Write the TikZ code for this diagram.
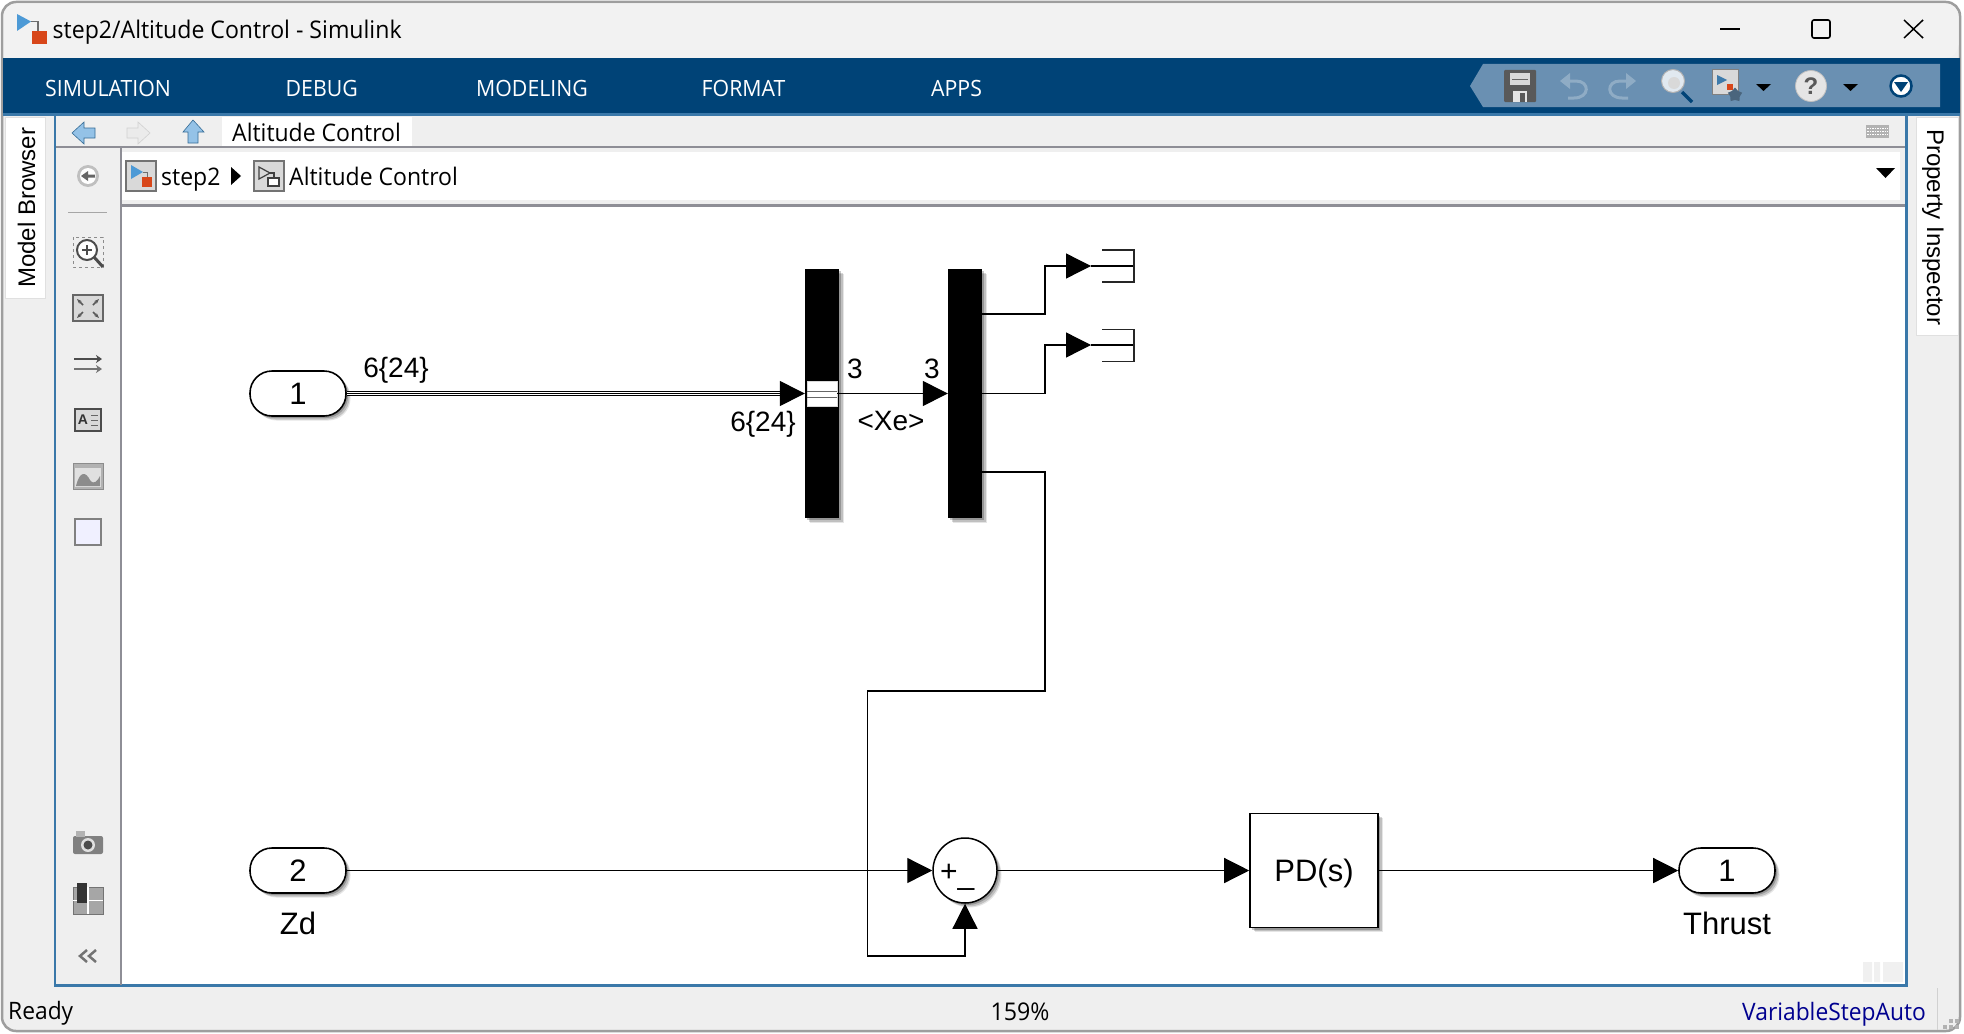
\documentclass[tikz,border=0pt]{standalone}
\usepackage{fontspec}
\setmainfont{Liberation Sans}
\newfontfamily\uiface[FakeStretch=0.95]{Open Sans}
\usetikzlibrary{arrows.meta,shapes.geometric,shadows}
\definecolor{titlebg}{HTML}{F2F2F2}
\definecolor{bandblue}{HTML}{004377}
\definecolor{qabar}{HTML}{6A90B2}
\definecolor{steel}{HTML}{3A78A9}
\definecolor{panel}{HTML}{EFEFEF}
\definecolor{rulegrey}{HTML}{8E8E96}
\definecolor{iconblue}{HTML}{4D9AD6}
\definecolor{iconred}{HTML}{D8471A}
\definecolor{icongrey}{HTML}{6E6E6E}
\definecolor{statusblue}{HTML}{00008F}
\newcommand{\sz}[1]{\fontsize{#1}{#1}\selectfont}
\tikzset{
  softshadow/.style={
    general shadow={fill=black,opacity=.10,shadow xshift=4.5pt,shadow yshift=-4.5pt},
    general shadow={fill=black,opacity=.16,shadow xshift=3.5pt,shadow yshift=-3.5pt},
    general shadow={fill=black,opacity=.22,shadow xshift=2pt,shadow yshift=-2pt}},
  ui/.style={font=\uiface\sz{#1},inner sep=0pt,anchor=base west,text=black},
  ui/.default=24.2,
  menu/.style={ui=22.4,text=white},
  lab/.style={font=\sz{28},inner sep=0pt},
  namelab/.style={font=\sz{31},inner sep=0pt},
  barblock/.style={fill=black,draw=none,minimum width=34pt,minimum height=249pt,inner sep=0pt,softshadow},
  portblock/.style={rounded corners=22pt,draw=black,line width=1.6pt,fill=white,minimum width=96pt,minimum height=45pt,inner sep=0pt,font=\sz{31},softshadow},
  sumblock/.style={ellipse,draw=black,line width=1.5pt,fill=white,minimum width=64pt,minimum height=65pt,inner sep=0pt,softshadow},
  tfblock/.style={rectangle,draw=black,line width=1.6pt,fill=white,minimum width=128pt,minimum height=114pt,inner sep=0pt,font=\sz{31},text height=22pt,text depth=0pt,softshadow},
  wire/.style={draw=black,line width=1.3pt},
  sig/.style={wire,-{Triangle[length=25pt,width=25pt,sep=0pt]}},
  termcap/.style={draw=black!85,line width=1.5pt},
}
\begin{document}
\begin{tikzpicture}[x=1pt,y=-1pt]
\useasboundingbox (0,0) rectangle (1964,1033);
\fill[white] (0,0) rectangle (1964,1033);
% window
\draw[draw=black!38,line width=2.5pt,fill=panel,rounded corners=14pt] (2,2) rectangle (1960,1031);
\fill[titlebg,rounded corners=13pt] (3.5,58) -- (3.5,3.5) -- (1958.5,3.5) -- (1958.5,58) [sharp corners] -- cycle;
\fill[bandblue] (3,58) rectangle (1960,113);
\fill[steel] (3,113) rectangle (1960,116);
% title bar
\fill[iconblue] (17,14) -- (31,21.5) -- (17,31) -- cycle;
\draw[draw=icongrey,line width=1.2pt] (31,21.5) -- (38,21.5) -- (38,31);
\fill[iconred] (32,31) rectangle (47,44.5);
\node[ui=24.3] (title) at (52.5,39) {step2/Altitude Control - Simulink};
\draw[line width=1.6pt] (1720,29) -- (1740,29);
\draw[line width=1.6pt,rounded corners=2pt] (1812,20) rectangle (1830,38);
\draw[line width=1.5pt] (1904,20) -- (1923,38) (1923,20) -- (1904,38);
% menu
\node[menu] (m1) at (45,96) {SIMULATION};
\node[menu] (m2) at (285.5,96) {DEBUG};
\node[menu] (m3) at (476,96) {MODELING};
\node[menu] (m4) at (701.5,96) {FORMAT};
\node[menu] (m5) at (931,96) {APPS};
% quick access bar
\fill[qabar] (1470,86) -- (1483,64) -- (1940,64) -- (1940,107) -- (1483,107) -- cycle;
\fill[black!65,rounded corners=1pt] (1504,70) rectangle (1536,102);
\fill[black!15] (1510,73) rectangle (1530,85);
\draw[black!60,line width=1pt] (1512,79) -- (1528,79);
\fill[white!90!black] (1513,91) rectangle (1527,102);
\fill[black!65] (1520,93) rectangle (1525,102);
\draw[draw=white!25!qabar,line width=3pt] (1566,81) -- (1576,81) .. controls (1590,81) and (1590,98) .. (1574,98) -- (1568,98);
\fill[white!25!qabar] (1560,81) -- (1570,73) -- (1570,89) -- cycle;
\draw[draw=white!25!qabar,line width=3pt] (1630,81) -- (1620,81) .. controls (1606,81) and (1606,98) .. (1622,98) -- (1628,98);
\fill[white!25!qabar] (1636,81) -- (1626,73) -- (1626,89) -- cycle;
\draw[draw=bandblue,line width=3.5pt] (1682,92) -- (1692,102);
\fill[white!80!qabar,draw=black!30,line width=1pt] (1673,81) circle (11.5);
\fill[black!15] (1674,83) circle (6);
\fill[white!85!black,draw=black!50,line width=1pt] (1712,70) rectangle (1738,94);
\fill[iconblue!80!black] (1717,75) -- (1727,80) -- (1717,85) -- cycle;
\fill[iconred] (1727,84) rectangle (1733,90);
\node[star,star points=5,fill=qabar!70!black,minimum size=15pt,inner sep=0pt] (qastar) at (1735,95) {};
\fill[black] (1756,84) -- (1771,84) -- (1763.5,91) -- cycle;
\fill[black!10,draw=black!25,line width=.8pt] (1811,86) circle (15.5);
\node[font=\bfseries\sz{24},inner sep=0pt,text=black!65] (qahelp) at (1811,86) {?};
\fill[black] (1843,84) -- (1858,84) -- (1850.5,91) -- cycle;
\fill[white,draw=bandblue,line width=2.5pt] (1901,86) circle (10.5);
\fill[bandblue] (1894,82) -- (1908,82) -- (1901,92) -- cycle;
% side tabs
\fill[white,draw=black!12,line width=.8pt] (5,117) rectangle (45,298);
\node[font=\sz{24},inner sep=0pt,anchor=base west,rotate=90] (mb) at (35,288) {Model Browser};
\fill[white,draw=black!12,line width=.8pt] (1916,117) rectangle (1958,335);
\node[font=\sz{24},inner sep=0pt,anchor=base west,rotate=-90] (pi) at (1927,129) {Property Inspector};
% main frame
\fill[panel] (56,116) rectangle (1905,985);
\fill[steel] (54,116) rectangle (56,987);
\fill[steel] (1905,114) rectangle (1908,987);
\fill[steel] (54,984) rectangle (1908,987);
% tab row
\fill[white] (222,117) rectangle (412,146);
\fill[rulegrey] (56,145.5) rectangle (1905,147.5);
\fill[iconblue!60!white,draw=iconblue!70!black,line width=.6pt] (72,133) -- (84,122) -- (84,128) -- (95,128) -- (95,138) -- (84,138) -- (84,144) -- cycle;
\fill[black!8,draw=black!18,line width=.6pt] (150,133) -- (138,122) -- (138,128) -- (127,128) -- (127,138) -- (138,138) -- (138,144) -- cycle;
\fill[iconblue!60!white,draw=iconblue!70!black,line width=.6pt] (193,120) -- (204,132) -- (198,132) -- (198,143) -- (188,143) -- (188,132) -- (183,132) -- cycle;
\node[ui] (tab) at (232,141) {Altitude Control};
\fill[black!30] (1866,125) rectangle (1889,138);
\foreach \ky in {128,131,134} {\draw[white,line width=.6pt,dash pattern=on 1.5pt off 1pt] (1867,\ky) -- (1888,\ky);}
% breadcrumb row
\fill[white] (121,152) rectangle (1900,200);
\fill[rulegrey] (120,204) rectangle (1905,207);
\fill[white!85!black,draw=black!55,line width=1.2pt] (126,161) rectangle (156,191);
\fill[iconblue] (131,165) -- (143,172) -- (131,179) -- cycle;
\draw[icongrey,line width=1pt] (143,172) -- (147,172) -- (147,177);
\fill[iconred] (142,177) rectangle (152,187);
\node[ui] (crumb1) at (161,185) {step2};
\fill[black] (231,167) -- (241,176) -- (231,185) -- cycle;
\fill[white!85!black,draw=black!55,line width=1.2pt] (254,161) rectangle (284,191);
\draw[black!75,line width=1.2pt] (259,167) -- (270,173) -- (259,179) -- cycle;
\draw[black!75,line width=1.2pt] (270,173) -- (274,173) -- (274,178);
\draw[black!75,fill=white,line width=1.2pt] (268,178) rectangle (279,186);
\node[ui] (crumb2) at (289,185) {Altitude Control};
\fill[black] (1876,168) -- (1895,168) -- (1885.5,178) -- cycle;
% left toolbar
\fill[rulegrey] (120,147) rectangle (121.5,985);
\fill[black!25] (88,176) circle (11);
\fill[white] (88,176) circle (8);
\fill[black!60] (81,176) -- (88,171) -- (88,174.5) -- (95,174.5) -- (95,177.5) -- (88,177.5) -- (88,181) -- cycle;
\draw[black!35,line width=1pt] (68,212) -- (107,212);
\draw[black!45,dashed,line width=1pt] (73,237) rectangle (103,267);
\fill[white] (87,250) circle (10);
\draw[black!70,line width=2pt] (87,250) circle (10);
\draw[black!70,line width=3pt] (94,257) -- (103,267);
\draw[black!70,line width=1.5pt] (82,250) -- (92,250) (87,245) -- (87,255);
\fill[white!85!black,draw=black!60,line width=1.5pt] (73,295) rectangle (103,321);
\draw[black!65,line width=1.6pt,-{Stealth[length=5pt]}] (83,305) -- (77,299);
\draw[black!65,line width=1.6pt,-{Stealth[length=5pt]}] (93,305) -- (99,299);
\draw[black!65,line width=1.6pt,-{Stealth[length=5pt]}] (83,312) -- (77,318);
\draw[black!65,line width=1.6pt,-{Stealth[length=5pt]}] (93,312) -- (99,318);
\draw[black!70,line width=1.6pt,-{Stealth[length=6pt,width=8pt]}] (74,359) -- (102,359);
\draw[black!55,line width=1.6pt,-{Stealth[length=6pt,width=8pt]}] (74,369) -- (102,369);
\fill[white!85!black,draw=black!70,line width=1.3pt] (75,409) rectangle (101,431);
\node[font=\bfseries\sz{14},inner sep=0pt,text=black!80] (tbA) at (83,420) {A};
\draw[black!60,line width=1pt] (91,415) -- (98,415) (91,420) -- (98,420) (91,425) -- (98,425);
\fill[black!30,draw=black!45,line width=1pt] (73,463) rectangle (103,489);
\fill[black!12] (75,468) rectangle (101,487);
\fill[black!45] (76,486) .. controls (80,470) and (86,472) .. (90,480) .. controls (94,486) and (98,480) .. (100,476) -- (100,486) -- cycle;
\fill[blue!6,draw=black!50,line width=1.6pt] (75,519) rectangle (101,545);
\fill[black!50,rounded corners=2pt] (73,836) rectangle (103,854);
\fill[black!30] (76,831) rectangle (85,837);
\fill[black!12] (88,845) circle (7);
\fill[black!70] (88,845) circle (4.5);
\fill[black!35,draw=black!55,line width=.8pt] (73,887) rectangle (103,914);
\fill[white] (73,900) rectangle (103,901);
\fill[white] (87,887) rectangle (89,914);
\fill[black!80] (77,883) rectangle (87,903);
\draw[black!55,line width=2.5pt] (87,950) -- (80,956) -- (87,962) (96,950) -- (89,956) -- (96,962);
% canvas
\fill[white] (122,207) rectangle (1905,984);
\fill[black!6] (1863,962) rectangle (1872,982) (1874,962) rectangle (1880,982) (1883,962) rectangle (1903,982);
% status bar
\node[ui=24] (ready) at (8,1019) {Ready};
\node[font=\uiface\sz{24.4},inner sep=0pt,anchor=base] (zoomlvl) at (1020,1020) {159\%};
\node[ui=24,text=statusblue] (solver) at (1742,1020) {VariableStepAuto};
\draw[black!18,line width=1pt] (1937,988) -- (1937,1030);
\foreach \gx/\gy in {1949/1019,1955/1019,1949/1025,1955/1025,1943/1025} {\fill[black!30] (\gx,\gy) rectangle +(4,4);}
% ---------- block diagram ----------
\node[portblock] (in1) at (298,393.5) {1};
\node[portblock] (in2) at (298,870.5) {2};
\node[namelab] (zd) at (298,923) {Zd};
\node[portblock] (out1) at (1727,870.5) {1};
\node[namelab] (thrust) at (1727,923) {Thrust};
\node[barblock] (sel1) at (822,393.5) {};
\node[barblock] (sel2) at (965,393.5) {};
\node[draw=black!15,fill=white,minimum width=30pt,minimum height=25pt,inner sep=0pt,line width=.5pt] (busport) at (822,393.5) {};
\draw[black!60,line width=.9pt] (busport.west |- 0,391.5) -- (busport.east |- 0,391.5) (busport.west |- 0,397) -- (busport.east |- 0,397);
\node[sumblock] (sum) at (965,870.5) {};
\node[inner sep=0pt,anchor=base west,font=\sz{30}] (sumsigns) at (940,881) {+\raisebox{-3pt}{\_}};
\node[tfblock] (pd) at (1314,870.5) {PD(s)};
% terminator coordinates
\coordinate (t1in) at (1091,266);
\coordinate (t1r) at (1134,266);
\coordinate (t2in) at (1091,345);
\coordinate (t2r) at (1134,345);
\coordinate (so1) at (982,314);
\coordinate (so3) at (982,472);
\coordinate (fbup) at (1045,691);
\coordinate (fbleft) at (867.5,691);
\coordinate (fbdown) at (867.5,956);
\coordinate (fbright) at (965,956);
% connectors
\draw[draw=black,line width=.7pt,double=white,double distance=3.8pt] (in1.east) -- (783,393.5);
\draw[black,line width=.7pt] (in1.east) -- (783,393.5);
\draw[sig] (780,393.5) -- (sel1.west);
\draw[sig] (busport.east) -- (sel2.west);
\draw[sig] (so1) -| (1045,266) -- (t1in);
\draw[sig] (sel2.east) -| (1045,345) -- (t2in);
\draw[wire] (t1in) -- (t1r);
\draw[wire] (t2in) -- (t2r);
\draw[termcap] (1102,250) -- (1134,250) -- (1134,282) -- (1102,282);
\draw[termcap] (1102,329.5) -- (1134,329.5) -- (1134,361.5) -- (1102,361.5);
\draw[sig] (so3) -| (fbup) -- (fbleft) -- (fbdown) -- (fbright) -- (sum.south);
\draw[sig] (in2.east) -- (sum.west);
\draw[sig] (sum.east) -- (pd.west);
\draw[sig] (pd.east) -- (out1.west);
% labels
\node[lab] (l1) at (396,370.5) {6\{24\}};
\node[lab] (l2) at (763,424.5) {6\{24\}};
\node[lab] (l3) at (855,369) {3};
\node[lab] (l4) at (932,369) {3};
\node[lab] (l5) at (891,421) {<Xe>};
\end{tikzpicture}
\end{document}
